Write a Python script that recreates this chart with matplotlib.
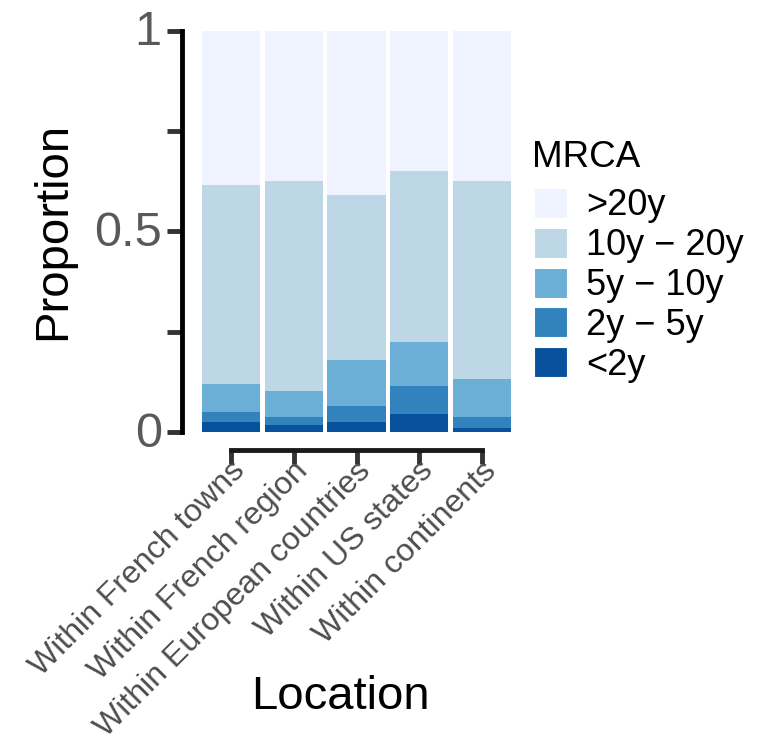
import matplotlib
matplotlib.use('Agg')
import matplotlib.pyplot as plt
import matplotlib.transforms as mtrans
import numpy as np

plt.rcParams['font.family'] = ['Liberation Sans', 'DejaVu Sans']

# Location categories (x axis)
locations = ['Within French towns', 'Within French region', 'Within European countries',
             'Within US states', 'Within continents']

# MRCA classes, bottom of stack first
mrca_labels = ['<2y', '2y \u2212 5y', '5y \u2212 10y', '10y \u2212 20y', '>20y']
mrca_colors = ['#08519C', '#3182BD', '#6BAED6', '#BDD7E7', '#EFF3FF']

# proportion of each class per location
lt2 = [0.026, 0.017, 0.026, 0.046, 0.010]
y2_5 = [0.025, 0.021, 0.038, 0.069, 0.028]
y5_10 = [0.068, 0.065, 0.116, 0.108, 0.094]
y10_20 = [0.497, 0.521, 0.410, 0.428, 0.493]
gt20 = [0.384, 0.376, 0.410, 0.349, 0.375]
series = [lt2, y2_5, y5_10, y10_20, gt20]

W, H = 766, 746
fig = plt.figure(figsize=(W / 100, H / 100), dpi=100)
ax = fig.add_axes([193 / W, 1 - 432 / H, 327 / W, 401.5 / H])

x = np.arange(1, len(locations) + 1)
bottom = np.zeros(len(locations))
handles = []
for vals, col, lab in zip(series, mrca_colors, mrca_labels):
    b = ax.bar(x, vals, width=0.925, bottom=bottom, color=col, label=lab, linewidth=0)
    handles.append(b)
    bottom += np.array(vals)

ax.set_xlim(0.4, 5.6)
ax.set_ylim(0, 1)

# capped, offset axes
for s in ['top', 'right']:
    ax.spines[s].set_visible(False)
ax.spines['left'].set_position(('outward', 8))
ax.spines['bottom'].set_position(('outward', 13))
ax.spines['left'].set_bounds(0, 1)
ax.spines['bottom'].set_bounds(1, 5)
ax.spines['left'].set_linewidth(3.5)
ax.spines['bottom'].set_linewidth(3.5)
ax.spines['left'].set_color('black')
ax.spines['bottom'].set_color('#1a1a1a')

ax.set_yticks([0, 0.25, 0.5, 0.75, 1])
ax.set_yticklabels(['0', '', '0.5', '', '1'])
ax.set_xticks(x)
ax.set_xticklabels(locations, rotation=45, ha='right', va='top', rotation_mode='anchor')
ax.tick_params(axis='y', length=10.5, width=3.5, color='#333333', labelsize=35,
               labelcolor='#595959', pad=4)
ax.tick_params(axis='x', length=10, width=3.5, color='#333333', labelsize=23,
               labelcolor='#4D4D4D', pad=0)

# nudge tick labels a little upwards
up = mtrans.ScaledTranslation(0, 3 / 100, fig.dpi_scale_trans)
for t in ax.get_yticklabels():
    t.set_transform(t.get_transform() + up)
up_x = mtrans.ScaledTranslation(-1 / 100, 8 / 100, fig.dpi_scale_trans)
for t in ax.get_xticklabels():
    t.set_transform(t.get_transform() + up_x)

ax.set_ylabel('Proportion', fontsize=34)
ax.yaxis.set_label_coords(-0.36, 0.5)
ax.set_xlabel('Location', fontsize=34)
ax.xaxis.set_label_coords(0.45, -0.605)

leg = fig.legend(handles[::-1], mrca_labels[::-1], loc='upper left',
                 bbox_to_anchor=(534 / W, 1 - 188 / H), frameon=False, fontsize=26,
                 handlelength=0.9, handleheight=0.9,
                 handletextpad=0.55, labelspacing=0.12, borderpad=0, borderaxespad=0)
for p in leg.get_patches():
    p.set_edgecolor('white')
    p.set_linewidth(0.8)
fig.text(532 / W, 1 - 167 / H, 'MRCA', fontsize=26.5, va='baseline', ha='left')

fig.savefig('out.png', dpi=100)
